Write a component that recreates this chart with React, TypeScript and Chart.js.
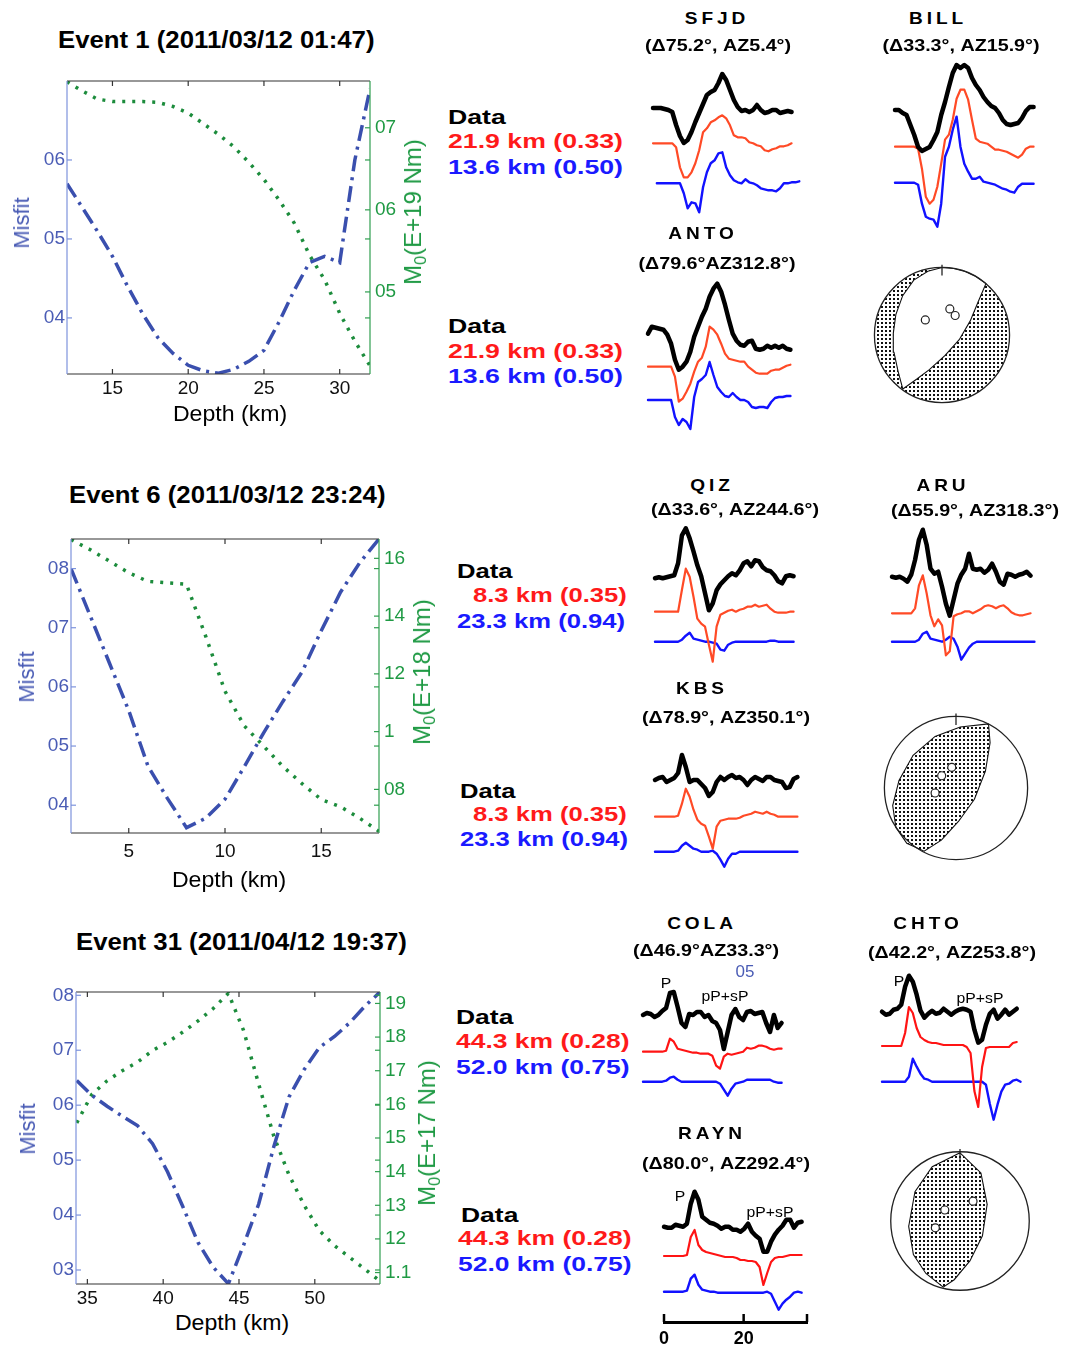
import React, { useEffect, useRef } from 'react';
import { Chart, registerables } from 'chart.js';
Chart.register(...registerables);

const FONT = '"Liberation Sans", Arial, Helvetica, sans-serif';

// ---------------- depth scan data ----------------
const E1_DEPTH = [12, 13, 14, 15, 16, 17, 18, 19, 20, 21, 22, 23, 24, 25, 26, 27, 28, 29, 30, 31, 32];
const E1_MISFIT = [0.570, 0.540, 0.510, 0.478, 0.440, 0.405, 0.375, 0.355, 0.340, 0.333, 0.330, 0.335, 0.345, 0.359, 0.395, 0.435, 0.470, 0.478, 0.470, 0.600, 0.690];
const E1_MOMENT = [0.756, 0.745, 0.735, 0.732, 0.732, 0.732, 0.731, 0.726, 0.718, 0.705, 0.692, 0.677, 0.658, 0.637, 0.612, 0.584, 0.545, 0.515, 0.474, 0.440, 0.410];
const E1_XTICKS = [15, 20, 25, 30];
const E1_YTICKS = [0.4, 0.5, 0.6];
const E1_YLABELS = ['04', '05', '06'];
const E1_Y1TICKS = [0.5, 0.6, 0.7];
const E1_Y1LABELS = ['05', '06', '07'];

const E6_DEPTH = [2, 3, 4, 5, 6, 7, 8, 9, 10, 11, 12, 13, 14, 15, 16, 17, 18];
const E6_MISFIT = [0.80, 0.72, 0.64, 0.56, 0.466, 0.412, 0.362, 0.378, 0.41, 0.465, 0.522, 0.575, 0.625, 0.695, 0.76, 0.81, 0.85];
const E6_MOMENT = [1.665, 1.63, 1.59, 1.55, 1.52, 1.515, 1.51, 1.33, 1.14, 1.02, 0.95, 0.88, 0.82, 0.765, 0.74, 0.70, 0.655];
const E6_XTICKS = [5, 10, 15];
const E6_YTICKS = [0.4, 0.5, 0.6, 0.7, 0.8];
const E6_YLABELS = ['04', '05', '06', '07', '08'];
const E6_Y1TICKS = [0.8, 1.0, 1.2, 1.4, 1.6];
const E6_Y1LABELS = ['08', '1', '12', '14', '16'];

const E31_DEPTH = [34.3, 35.3, 36.3, 37.3, 38.3, 39.3, 40.3, 41.3, 42.3, 43.3, 44.3, 45.3, 46.3, 47.3, 48.3, 49.3, 50.3, 51.3, 52.3, 53.3, 54.3];
const E31_MISFIT = [0.645, 0.618, 0.598, 0.580, 0.563, 0.530, 0.478, 0.415, 0.350, 0.305, 0.275, 0.345, 0.420, 0.525, 0.615, 0.665, 0.705, 0.725, 0.750, 0.780, 0.806];
const E31_MOMENT = [1.545, 1.63, 1.67, 1.70, 1.725, 1.76, 1.785, 1.815, 1.848, 1.885, 1.93, 1.82, 1.66, 1.505, 1.39, 1.30, 1.225, 1.18, 1.145, 1.11, 1.075];
const E31_XTICKS = [35, 40, 45, 50];
const E31_YTICKS = [0.3, 0.4, 0.5, 0.6, 0.7, 0.8];
const E31_YLABELS = ['03', '04', '05', '06', '07', '08'];
const E31_Y1TICKS = [1.1, 1.2, 1.3, 1.4, 1.5, 1.6, 1.7, 1.8, 1.9];
const E31_Y1LABELS = ['1.1', '12', '13', '14', '15', '16', '17', '18', '19'];

// ---------------- waveform amplitudes (data / synthetic 1 / synthetic 2) ----------------
const SFJD_OBS = [0, 0, 0, -1, -2, -4, -17, -28, -35, -32, -24, -14, -5, 4, 13, 16, 18, 25, 34, 28, 18, 8, 1, -3, -2, -4, -2, 3, -2, -5, -4, -2, -2, -5, -4, -3, -4];
const SFJD_SYN1 = [0, 0, 0, 0, 0, 0, -4, -24, -34, -34, -29, -20, -7, 11, 15, 21, 23, 26, 28, 25, 18, 8, 6, 6, 5, 1, 0, -2, -3, -7, -8, -6, -5, -3, -3, -2, 0];
const SFJD_SYN2 = [null, 0, 0, 0, 0, 0, 0, 0, -10, -25, -19, -20, -29, -4, 11, 20, 23, 30, 31, 16, 8, 3, 1, 0, 4, 1, 0, -2, -5, -6, -7, -7, -8, -5, 0, 0, 1, 1, 2];

const BILL_OBS = [0, 0, -3, -5, -15, -25, -37, -41, -39, -37, -30, -22, -5, 8, 23, 37, 45, 42, 45, 42, 32, 25, 20, 13, 8, 4, 2, -3, -10, -14, -15, -14, -13, -8, -1, 3, 3];
const BILL_SYN1 = [0, 0, 0, 0, 0, 0, -2, -22, -50, -57, -53, -40, -17, 7, 12, 27, 48, 57, 57, 47, 27, 8, 5, 4, 3, 0, -3, -3, -4, -5, -7, -9, -11, -8, -2, 0, 0];
const BILL_SYN2 = [0, 0, 0, 0, 0, 0, -2, -21, -34, -36, -37, -44, -21, 26, 36, 53, 66, 36, 19, 11, 4, 4, 6, 1, 0, -1, -2, -4, -6, -7, -9, -10, -4, -1, -1, -1, -1];

const ANTO_OBS = [-2, 5, 4, 3, 2, -3, -12, -28, -38, -35, -30, -20, -5, 5, 15, 23, 35, 43, 48, 40, 27, 12, -2, -9, -13, -14, -10, -9, -17, -18, -17, -14, -16, -14, -16, -14, -17, -18];
const ANTO_SYN1 = [0, 0, 0, 0, 0, 0, 0, -10, -35, -32, -25, -17, -5, 5, 9, 20, 40, 37, 32, 23, 13, 8, 7, 6, 5, 5, 0, -3, -6, -7, -7, -7, -4, -3, -3, -1, 1, 2];
const ANTO_SYN2 = [0, 0, 0, 0, 0, 0, 0, -17, -25, -19, -22, -29, 3, 18, 21, 25, 38, 25, 13, 8, 4, 3, 7, 3, 0, 0, -2, -7, -8, -7, -7, -8, -2, 2, 3, 3, 4, 4];

const QIZ_OBS = [0, 1, 0, 1, 2, 3, 15, 43, 50, 40, 27, 13, 2, -15, -32, -25, -12, -6, -2, 2, 5, 3, 8, 15, 17, 12, 18, 17, 11, 8, 7, 3, -3, -5, 2, 3, 2];
const QIZ_SYN1 = [0, 0, 0, 0, 0, 0, 0, 22, 43, 35, 15, -7, -12, -15, -33, -50, -15, -3, -1, 1, 2, 0, 2, 3, 5, 5, 7, 5, 6, 7, 3, 0, -1, -1, -1, 0, 0];
const QIZ_SYN2 = [0, 0, 0, 0, 0, 0, 0, 2, 6, 9, 3, 2, 1, 0, 0, -1, -2, -8, -9, -3, -1, 0, 0, 0, 0, 0, 0, 0, 0, 0, 1, 1, 0, 0, 0, 0, 0];

const ARU_OBS = [0, -1, 0, -2, -5, 2, 17, 37, 47, 32, 8, 3, 5, -10, -27, -39, -23, -7, 2, 8, 23, 8, 7, 8, 4, 7, 13, 5, -5, -8, 3, 2, 0, 2, 3, 5, 1];
const ARU_SYN1 = [0, 0, 0, 0, 0, 0, 5, 28, 38, 20, -2, -13, -6, -12, -42, -38, -3, -1, 0, 2, 2, 0, 2, 4, 7, 8, 7, 5, 7, 8, 5, 1, -1, -2, -2, -1, 0];
const ARU_SYN2 = [0, 0, 0, 0, 0, 0, 0, 2, 8, 10, 3, 2, 1, 0, 2, 5, 3, -5, -18, -12, -6, -2, 0, 0, 0, 0, 0, 0, 0, 0, 0, 0, 0, 0, 0, 0, 0, 0];

const KBS_OBS = [0, 2, 3, -2, 0, 2, 7, 25, 13, -2, 0, 0, -4, -8, -16, -12, -2, 3, 0, 3, 5, 2, 3, 0, -5, 0, 3, 1, -1, 3, 3, 0, -1, -2, -8, -7, 1, 3];
const KBS_SYN1 = [0, 0, 0, 0, 0, 0, 1, 13, 28, 20, 7, -3, -7, -9, -20, -32, -10, -4, -3, -2, -2, -2, -1, 1, 2, 3, 5, 4, 3, 5, 3, 2, 0, 0, 0, 0, 0, 0];
const KBS_SYN2 = [0, 0, 0, 0, 0, 0, 1, 6, 9, 6, 3, 2, 0, 0, 0, 1, -2, -8, -15, -7, -2, -2, 0, 0, 0, 0, 0, 0, 0, 0, 0, 0, 0, 0, 0, 0, 0, 0];

const COLA_OBS = [0, 2, 1, -2, 0, 4, 7, 22, 23, 8, -8, -12, 1, 0, 3, 3, -2, 0, -6, -8, -15, -34, -17, 0, 6, -2, -5, 3, 4, 1, 2, 3, -8, -17, 0, -13, -8];
const COLA_SYN1 = [0, 0, 0, 0, 0, 0, 1, 13, 10, 3, 2, 1, 0, -1, -1, -2, -2, -2, -4, -14, -17, -5, -2, -3, -2, -1, 0, 4, 3, 4, 6, 6, 5, 3, 2, 3, 3];
const COLA_SYN2 = [0, 0, 0, 0, 0, 0, 1, 4, 5, 2, 0, 0, 0, 0, 0, 0, 0, 0, 0, 0, -2, -8, -14, -7, -2, -1, 0, 2, 2, 2, 2, 2, 2, 2, 0, -1, -1];

const CHTO_OBS = [0, -3, -2, 2, 3, 7, 25, 36, 30, 17, 1, -6, -2, 1, -2, -1, 3, 0, -3, 0, 2, 3, 2, 0, -18, -31, -28, -13, -2, 2, -7, -3, 2, -3, 0, 3];
const CHTO_SYN1 = [0, 0, 0, 0, 0, 0, 13, 39, 33, 18, 9, 6, 4, 3, 3, 2, 1, 1, 1, 1, 1, 1, -1, -7, -45, -61, -21, -2, -1, -1, -1, -1, -1, -1, 3, 4];
const CHTO_SYN2 = [0, 0, 0, 0, 0, 0, 0, 5, 23, 15, 8, 3, 2, 0, 0, 0, 0, 0, 0, 0, 0, 0, 0, 0, 0, 0, 0, -3, -22, -38, -23, -10, -3, -2, 1, 2, 0];

const RAYN_OBS = [0, -1, -1, 2, 1, 0, 3, 23, 35, 27, 10, 7, 4, 3, 1, -2, 0, 0, -3, -3, -5, -2, 3, -5, -9, -12, -25, -25, -15, -8, -3, 1, 7, 7, -1, 4, 5];
const RAYN_SYN1 = [0, 0, 0, 0, 0, 0, 1, 19, 26, 11, 6, 4, 3, 2, 1, 0, -1, -1, -1, -2, -4, -4, -5, -5, -6, -11, -29, -17, -6, -2, -1, -1, 0, 1, 1, 1, 1];
const RAYN_SYN2 = [0, 0, 0, 0, 0, 0, 1, 13, 17, 7, 2, 1, 0, 0, -1, -1, -1, -1, -1, -1, -1, -1, -1, -1, -1, -1, -1, 0, -2, -10, -18, -12, -8, -5, -1, 0, -1];

const TIME_TICKS = [0, 20];
const DT = 0.96; // seconds per sample

// ---------------- focal mechanisms (unit-circle coordinates) ----------------
const E1_NODAL = [[-0.58, -0.8], [-0.651, -0.534], [-0.711, -0.255], [-0.721, 0.024], [-0.683, 0.303], [-0.582, 0.582], [-0.418, 0.813], [-0.209, 0.944], [0, 1], [0.174, 0.985], [0.342, 0.94], [0.5, 0.866], [0.65, 0.76], [0.534, 0.488], [0.418, 0.209], [0.255, -0.07], [0.046, -0.303], [-0.187, -0.512], [-0.372, -0.651], [-0.58, -0.8]];
const E1_AXES = [[-0.247, 0.223], [0.116, 0.386], [0.195, 0.289]];
const E6_NODAL = [[0.454, 0.895], [0.059, 0.851], [-0.292, 0.72], [-0.599, 0.457], [-0.796, 0.105], [-0.884, -0.246], [-0.839, -0.553], [-0.687, -0.772], [-0.445, -0.882], [-0.204, -0.728], [0.037, -0.464], [0.257, -0.158], [0.411, 0.237], [0.476, 0.632], [0.454, 0.895]];
const E6_AXES = [[-0.059, 0.289], [-0.2, 0.171], [-0.292, -0.07]];
const E31_NODAL = [[0.0, 0.985], [-0.401, 0.785], [-0.65, 0.422], [-0.741, -0.078], [-0.673, -0.486], [-0.492, -0.758], [-0.242, -0.955], [-0.084, -0.848], [0.143, -0.576], [0.324, -0.214], [0.392, 0.241], [0.302, 0.694], [0.0, 0.985]];
const E31_AXES = [[0.188, 0.286], [-0.22, 0.159], [-0.356, -0.099]];

// ---------------- styles ----------------
const BLUE_LINE = '#3a4fae';
const GREEN_LINE = '#1c8c3c';
const BLUE_TXT = '#4a5cb5';
const GREEN_TXT = '#1f9a44';
const RED_A = '#ff4a26';
const RED_B = '#ff1414';
const TXT_RED = '#ff1a1a';
const TXT_BLUE = '#1a1aff';
const PXS = 4.01; // pixels per second in the waveform panels

const framePlugin = {
  id: 'frame',
  afterDraw(chart: any, _a: any, o: any) {
    if (!o || !o.on) return;
    const { ctx, chartArea, scales } = chart;
    const { left, right, top, bottom } = chartArea;
    ctx.save();
    ctx.lineWidth = 1.2;
    const ln = (x1: number, y1: number, x2: number, y2: number, c: string) => {
      ctx.strokeStyle = c; ctx.beginPath(); ctx.moveTo(x1, y1); ctx.lineTo(x2, y2); ctx.stroke();
    };
    const L = 5;
    scales.x.ticks.forEach((t: any) => {
      const px = scales.x.getPixelForValue(t.value);
      ln(px, bottom, px, bottom - L, '#333'); ln(px, top, px, top + L, '#333');
    });
    scales.y.ticks.forEach((t: any) => {
      const py = scales.y.getPixelForValue(t.value);
      ln(left, py, left + L, py, o.left); ln(right, py, right - L, py, o.right);
    });
    scales.y1.ticks.forEach((t: any) => {
      const py = scales.y1.getPixelForValue(t.value);
      ln(right, py, right - L, py, o.right);
    });
    ln(left, top, right, top, '#333');
    ln(left, bottom, right, bottom, '#333');
    ln(left, top, left, bottom, o.left);
    ln(right, top, right, bottom, o.right);
    ctx.restore();
  },
};

const timeTickPlugin = {
  id: 'timeTicks',
  afterDraw(chart: any, _a: any, o: any) {
    if (!o || !o.on) return;
    const { ctx, chartArea, scales } = chart;
    const x = scales.x;
    ctx.save();
    ctx.strokeStyle = '#000';
    ctx.lineWidth = 2.5;
    const vals = x.ticks.map((t: any) => t.value).concat([x.max]);
    vals.forEach((v: number) => {
      const px = x.getPixelForValue(v);
      ctx.beginPath(); ctx.moveTo(px, chartArea.bottom); ctx.lineTo(px, chartArea.bottom - 8); ctx.stroke();
    });
    ctx.restore();
  },
};

const ballPlugin = {
  id: 'ball',
  beforeDatasetsDraw(chart: any, _a: any, o: any) {
    if (!o || !o.on) return;
    const { ctx, scales } = chart;
    const cx = scales.x.getPixelForValue(0), cy = scales.y.getPixelForValue(0);
    const r = scales.x.getPixelForValue(1) - cx;
    ctx.save();
    ctx.beginPath(); ctx.arc(cx, cy, r, 0, Math.PI * 2);
    ctx.fillStyle = o.outsideShaded ? o.pattern : '#fff';
    ctx.fill();
    ctx.restore();
  },
  afterDatasetsDraw(chart: any, _a: any, o: any) {
    if (!o || !o.on) return;
    const { ctx, scales } = chart;
    const cx = scales.x.getPixelForValue(0), cy = scales.y.getPixelForValue(0);
    const r = scales.x.getPixelForValue(1) - cx;
    ctx.save();
    ctx.strokeStyle = '#222'; ctx.lineWidth = 1.3;
    ctx.beginPath(); ctx.arc(cx, cy, r, 0, Math.PI * 2); ctx.stroke();
    ctx.beginPath(); ctx.moveTo(cx, scales.y.getPixelForValue(1.04)); ctx.lineTo(cx, scales.y.getPixelForValue(0.88)); ctx.stroke();
    ctx.restore();
  },
};

function makeDots(): any {
  const c = document.createElement('canvas');
  c.width = 4; c.height = 4;
  const g = c.getContext('2d')!;
  g.fillStyle = '#fff'; g.fillRect(0, 0, 4, 4);
  g.fillStyle = '#111'; g.fillRect(1, 1, 2, 2);
  return g.createPattern(c, 'repeat');
}

// ---------------- components ----------------
function MisfitChart(p: any) {
  const ref = useRef<HTMLCanvasElement>(null);
  useEffect(() => {
    const padTop = p.area.t - p.top;
    const leftW = p.area.l - p.left;
    const rightW = p.left + p.width - p.area.r;
    const bottomH = p.top + p.height - p.area.b;
    const tickFont = { family: FONT, size: 19 };
    const chart = new Chart(ref.current!, {
      type: 'line',
      data: {
        datasets: [
          { label: 'Misfit', data: p.depth.map((d: number, i: number) => ({ x: d, y: p.misfit[i] })), yAxisID: 'y', borderColor: BLUE_LINE, borderWidth: 3.5, borderDash: [16, 6, 3, 6], pointRadius: 0, tension: 0, fill: false },
          { label: 'M0', data: p.depth.map((d: number, i: number) => ({ x: d, y: p.moment[i] })), yAxisID: 'y1', borderColor: GREEN_LINE, borderWidth: 3.5, borderDash: [3, 7], pointRadius: 0, tension: 0, fill: false },
        ],
      },
      options: {
        responsive: false, animation: false, events: [],
        layout: { padding: { top: padTop, left: 0, right: 0, bottom: 0 } },
        plugins: { legend: { display: false }, tooltip: { enabled: false }, frame: { on: true, left: '#7d93dc', right: '#2f9e4f' } } as any,
        scales: {
          x: {
            type: 'linear', position: 'bottom', min: p.xMin, max: p.xMax,
            grid: { display: false, drawTicks: false }, border: { display: false },
            ticks: { font: tickFont, color: '#111', padding: p.xPad, autoSkip: false, maxRotation: 0, minRotation: 0 },
            afterBuildTicks: (s: any) => { s.ticks = p.xTicks.map((v: number) => ({ value: v })); },
            afterFit: (s: any) => { s.height = bottomH; },
          },
          y: {
            type: 'linear', position: 'left', min: p.yMin, max: p.yMax,
            grid: { display: false, drawTicks: false }, border: { display: false },
            ticks: { font: tickFont, color: BLUE_TXT, padding: 2, autoSkip: false, callback: (_v: any, i: number) => p.yLabels[i] },
            afterBuildTicks: (s: any) => { s.ticks = p.yTicks.map((v: number) => ({ value: v })); },
            afterFit: (s: any) => { s.width = leftW; },
          },
          y1: {
            type: 'linear', position: 'right', min: p.y1Min, max: p.y1Max,
            grid: { display: false, drawTicks: false }, border: { display: false },
            ticks: { font: tickFont, color: GREEN_TXT, padding: 5, autoSkip: false, callback: (_v: any, i: number) => p.y1Labels[i] },
            afterBuildTicks: (s: any) => { s.ticks = p.y1Ticks.map((v: number) => ({ value: v })); },
            afterFit: (s: any) => { s.width = rightW; },
          },
        } as any,
      },
      plugins: [framePlugin],
    } as any);
    return () => chart.destroy();
  }, []);
  return <canvas ref={ref} width={p.width} height={p.height} style={{ position: 'absolute', left: p.left, top: p.top, width: p.width, height: p.height }} />;
}

function WaveChart({ st }: any) {
  const ref = useRef<HTMLCanvasElement>(null);
  const PAD = 10;
  const top = Math.round(st.bases[0] - 60);
  const plotH = st.axisY ? st.axisY - top : Math.round(st.bases[2] + 60 - top);
  const height = st.axisY ? plotH + 26 : plotH;
  const plotW = st.axisY ? 144 : 165;
  const width = plotW + 2 * PAD;
  const left = st.left - PAD;
  useEffect(() => {
    const series = [st.obs, st.syn1, st.syn2];
    const colors = ['#000', st.red, '#1212ff'];
    const widths = [4.5, 2.2, 2.4];
    const datasets = series.map((arr: any[], k: number) => ({
      data: arr.map((a: any, i: number) => ({ x: i * DT, y: a === null ? null : st.bases[k] - top - a })).filter((q: any) => q.y !== null),
      borderColor: colors[k], borderWidth: widths[k], pointRadius: 0, tension: 0, fill: false,
      borderJoinStyle: 'round', borderCapStyle: 'round', order: k, clip: false,
    }));
    const chart = new Chart(ref.current!, {
      type: 'line',
      data: { datasets },
      options: {
        responsive: false, animation: false, events: [],
        layout: { padding: { left: PAD, right: PAD, top: 0, bottom: 0 } },
        plugins: { legend: { display: false }, tooltip: { enabled: false }, timeTicks: { on: !!st.axisY } } as any,
        scales: {
          x: st.axisY ? {
            type: 'linear', position: 'bottom', min: 0, max: plotW / PXS,
            grid: { display: false, drawTicks: false }, border: { display: true, color: '#000', width: 3 },
            ticks: { font: { family: FONT, size: 18, weight: 'bold' }, color: '#000', padding: 6, autoSkip: false, maxRotation: 0, minRotation: 0 },
            afterBuildTicks: (s: any) => { s.ticks = TIME_TICKS.map((v) => ({ value: v })); },
            afterFit: (s: any) => { s.height = height - plotH; },
          } : { type: 'linear', min: 0, max: plotW / PXS, display: false },
          y: { type: 'linear', min: 0, max: plotH, reverse: true, display: false },
        } as any,
      },
      plugins: [timeTickPlugin],
    } as any);
    return () => chart.destroy();
  }, []);
  return <canvas ref={ref} width={width} height={height} style={{ position: 'absolute', left, top, width, height }} />;
}

function Beachball({ cx, cy, r, nodal, axes, lensShaded }: any) {
  const ref = useRef<HTMLCanvasElement>(null);
  const S = 180;
  const range = S / 2 / r;
  useEffect(() => {
    const pattern = makeDots();
    const chart = new Chart(ref.current!, {
      type: 'line',
      data: {
        datasets: [
          { data: axes.map((a: number[]) => ({ x: a[0], y: a[1] })), showLine: false, pointRadius: 4, pointBackgroundColor: '#fff', pointBorderColor: '#222', pointBorderWidth: 1.2, order: 0 },
          { data: nodal.map((a: number[]) => ({ x: a[0], y: a[1] })), borderColor: '#111', borderWidth: 1.1, pointRadius: 0, tension: 0, fill: 'shape', backgroundColor: lensShaded ? pattern : '#fff', order: 1 },
        ],
      },
      options: {
        responsive: false, animation: false, events: [],
        layout: { padding: 0 },
        plugins: { legend: { display: false }, tooltip: { enabled: false }, ball: { on: true, outsideShaded: !lensShaded, pattern } } as any,
        scales: {
          x: { type: 'linear', min: -range, max: range, display: false },
          y: { type: 'linear', min: -range, max: range, display: false },
        } as any,
      },
      plugins: [ballPlugin],
    } as any);
    return () => chart.destroy();
  }, []);
  return <canvas ref={ref} width={S} height={S} style={{ position: 'absolute', left: cx - S / 2, top: cy - S / 2, width: S, height: S }} />;
}

function Label({ t, x, y, s, c = '#000', b = true, sx = 1, ls = 0, a = 'l' }: any) {
  const style: React.CSSProperties = {
    position: 'absolute', left: x, top: y - 0.49 * s, fontFamily: FONT, fontSize: s,
    fontWeight: b ? 700 : 400, color: c, lineHeight: 1, whiteSpace: 'nowrap', letterSpacing: ls,
    transformOrigin: a === 'l' ? '0 0' : '50% 0',
    transform: a === 'l' ? `scaleX(${sx})` : `translateX(-50%) scaleX(${sx})`,
  };
  return <div style={style}>{t}</div>;
}

function VLabel({ x, y, s, c, children }: any) {
  return (
    <div style={{ position: 'absolute', left: x, top: y, fontFamily: FONT, fontSize: s, color: c, lineHeight: 1, whiteSpace: 'nowrap', transform: 'translate(-50%,-50%) rotate(-90deg)' }}>
      {children}
    </div>
  );
}

function M0({ exp }: any) {
  return <span>M<span style={{ fontSize: '0.68em', position: 'relative', top: '0.3em' }}>0</span>(E+{exp} Nm)</span>;
}

const STATIONS = [
  { name: 'SFJD', left: 653, bases: [108, 143.3, 183.3], obs: SFJD_OBS, syn1: SFJD_SYN1, syn2: SFJD_SYN2, red: RED_A },
  { name: 'BILL', left: 895, bases: [110, 146.7, 182.7], obs: BILL_OBS, syn1: BILL_SYN1, syn2: BILL_SYN2, red: RED_A },
  { name: 'ANTO', left: 648, bases: [331.7, 366.7, 400], obs: ANTO_OBS, syn1: ANTO_SYN1, syn2: ANTO_SYN2, red: RED_A },
  { name: 'QIZ', left: 655, bases: [578.3, 611.7, 641.7], obs: QIZ_OBS, syn1: QIZ_SYN1, syn2: QIZ_SYN2, red: RED_A },
  { name: 'ARU', left: 891.7, bases: [576.7, 613.3, 641.7], obs: ARU_OBS, syn1: ARU_SYN1, syn2: ARU_SYN2, red: RED_A },
  { name: 'KBS', left: 655, bases: [780, 816.7, 851.7], obs: KBS_OBS, syn1: KBS_SYN1, syn2: KBS_SYN2, red: RED_A },
  { name: 'COLA', left: 643.3, bases: [1015, 1051.7, 1081.7], obs: COLA_OBS, syn1: COLA_SYN1, syn2: COLA_SYN2, red: RED_B },
  { name: 'CHTO', left: 881.7, bases: [1011.7, 1046, 1081.7], obs: CHTO_OBS, syn1: CHTO_SYN1, syn2: CHTO_SYN2, red: RED_B },
  { name: 'RAYN', left: 663, bases: [1226.7, 1256, 1291.7], obs: RAYN_OBS, syn1: RAYN_SYN1, syn2: RAYN_SYN2, red: RED_B, axisY: 1322 },
];

const TITLES = [
  { t: 'Event 1 (2011/03/12 01:47)', x: 58, y: 40 },
  { t: 'Event 6 (2011/03/12 23:24)', x: 69, y: 495 },
  { t: 'Event 31 (2011/04/12 19:37)', x: 76, y: 942 },
];

const DATA_BLOCKS = [
  { x: [448, 448, 448], y: [116.5, 140, 166], t: ['Data', '21.9 km (0.33)', '13.6 km (0.50)'], sx: 1.27 },
  { x: [448, 448, 448], y: [325, 350, 375], t: ['Data', '21.9 km (0.33)', '13.6 km (0.50)'], sx: 1.27 },
  { x: [457, 473, 457], y: [570, 594, 620], t: ['Data', '8.3 km (0.35)', '23.3 km (0.94)'], sx: 1.22 },
  { x: [460, 473, 460], y: [790, 813, 838], t: ['Data', '8.3 km (0.35)', '23.3 km (0.94)'], sx: 1.22 },
  { x: [456, 456, 456], y: [1016, 1040, 1066], t: ['Data', '44.3 km (0.28)', '52.0 km (0.75)'], sx: 1.26 },
  { x: [461, 458, 458], y: [1214, 1237, 1263], t: ['Data', '44.3 km (0.28)', '52.0 km (0.75)'], sx: 1.26 },
];

const STATION_LABELS = [
  { n: 'SFJD', nx: 717, ny: 18, c: '(Δ75.2°, AZ5.4°)', cx: 718, cy: 45 },
  { n: 'BILL', nx: 938, ny: 18, c: '(Δ33.3°, AZ15.9°)', cx: 961, cy: 45 },
  { n: 'ANTO', nx: 703, ny: 233, c: '(Δ79.6°AZ312.8°)', cx: 717, cy: 263 },
  { n: 'QIZ', nx: 712, ny: 485, c: '(Δ33.6°, AZ244.6°)', cx: 735, cy: 509 },
  { n: 'ARU', nx: 943, ny: 485, c: '(Δ55.9°, AZ318.3°)', cx: 975, cy: 510 },
  { n: 'KBS', nx: 702, ny: 688, c: '(Δ78.9°, AZ350.1°)', cx: 726, cy: 717 },
  { n: 'COLA', nx: 702, ny: 923, c: '(Δ46.9°AZ33.3°)', cx: 706, cy: 950 },
  { n: 'CHTO', nx: 928, ny: 923, c: '(Δ42.2°, AZ253.8°)', cx: 952, cy: 952 },
  { n: 'RAYN', nx: 712, ny: 1133, c: '(Δ80.0°, AZ292.4°)', cx: 726, cy: 1163 },
];

const PHASE_LABELS = [
  { t: 'P', x: 666, y: 982.5 }, { t: 'pP+sP', x: 725, y: 995 },
  { t: 'P', x: 899, y: 980 }, { t: 'pP+sP', x: 980, y: 997 },
  { t: 'P', x: 680, y: 1195 }, { t: 'pP+sP', x: 770, y: 1211 },
];

export default function App() {
  const colorsRow = ['#000', TXT_RED, TXT_BLUE];
  return (
    <div style={{ position: 'absolute', left: 0, top: 0, width: 1065, height: 1349, background: '#fff', overflow: 'hidden' }}>
      <MisfitChart left={0} top={60} width={440} height={360} area={{ l: 67, t: 81, r: 370, b: 374 }}
        depth={E1_DEPTH} misfit={E1_MISFIT} moment={E1_MOMENT} xMin={12} xMax={32} yMin={0.329} yMax={0.70} y1Min={0.40} y1Max={0.757}
        xTicks={E1_XTICKS} yTicks={E1_YTICKS} yLabels={E1_YLABELS} y1Ticks={E1_Y1TICKS} y1Labels={E1_Y1LABELS} xPad={3} />
      <MisfitChart left={0} top={520} width={440} height={360} area={{ l: 71, t: 539, r: 379, b: 833 }}
        depth={E6_DEPTH} misfit={E6_MISFIT} moment={E6_MOMENT} xMin={2} xMax={18} yMin={0.353} yMax={0.85} y1Min={0.649} y1Max={1.667}
        xTicks={E6_XTICKS} yTicks={E6_YTICKS} yLabels={E6_YLABELS} y1Ticks={E6_Y1TICKS} y1Labels={E6_Y1LABELS} xPad={7} />
      <MisfitChart left={0} top={970} width={440} height={340} area={{ l: 76, t: 992, r: 380, b: 1284 }}
        depth={E31_DEPTH} misfit={E31_MISFIT} moment={E31_MOMENT} xMin={34.25} xMax={54.3} yMin={0.2745} yMax={0.806} y1Min={1.066} y1Max={1.934}
        xTicks={E31_XTICKS} yTicks={E31_YTICKS} yLabels={E31_YLABELS} y1Ticks={E31_Y1TICKS} y1Labels={E31_Y1LABELS} xPad={3} />

      {STATIONS.map((st) => <WaveChart key={st.name} st={st} />)}

      <Beachball cx={941.7} cy={335} r={71.7} nodal={E1_NODAL} axes={E1_AXES} lensShaded={false} />
      <Beachball cx={955.5} cy={788} r={76} nodal={E6_NODAL} axes={E6_AXES} lensShaded={true} />
      <Beachball cx={959.5} cy={1221} r={73.5} nodal={E31_NODAL} axes={E31_AXES} lensShaded={true} />

      {TITLES.map((d) => <Label key={d.t} t={d.t} x={d.x} y={d.y} s={23} sx={1.12} />)}

      {DATA_BLOCKS.map((blk, bi) => blk.t.map((t, k) => (
        <Label key={bi + '-' + k} t={t} x={blk.x[k]} y={blk.y[k]} s={21} sx={blk.sx} c={colorsRow[k]} />
      )))}

      {STATION_LABELS.map((d) => (
        <React.Fragment key={d.n}>
          <Label t={d.n} x={d.nx} y={d.ny} s={17} a="c" ls={3.5} sx={1.12} />
          <Label t={d.c} x={d.cx} y={d.cy} s={17} a="c" sx={1.16} />
        </React.Fragment>
      ))}
      <Label t="05" x={745} y={971} s={17} a="c" b={false} c={BLUE_TXT} />
      {PHASE_LABELS.map((d, i) => <Label key={'ph' + i} t={d.t} x={d.x} y={d.y} s={15} a="c" b={false} sx={1.05} />)}

      <VLabel x={21.5} y={223} s={22} c={BLUE_TXT}>Misfit</VLabel>
      <VLabel x={413} y={212} s={24} c={GREEN_TXT}><M0 exp="19" /></VLabel>
      <Label t="Depth (km)" x={230} y={414} s={22} a="c" b={false} sx={1.05} />

      <VLabel x={26.5} y={677} s={22} c={BLUE_TXT}>Misfit</VLabel>
      <VLabel x={422} y={672} s={24} c={GREEN_TXT}><M0 exp="18" /></VLabel>
      <Label t="Depth (km)" x={229} y={880} s={22} a="c" b={false} sx={1.05} />

      <VLabel x={27.5} y={1129} s={22} c={BLUE_TXT}>Misfit</VLabel>
      <VLabel x={427} y={1133} s={24} c={GREEN_TXT}><M0 exp="17" /></VLabel>
      <Label t="Depth (km)" x={232} y={1323} s={22} a="c" b={false} sx={1.05} />
    </div>
  );
}
